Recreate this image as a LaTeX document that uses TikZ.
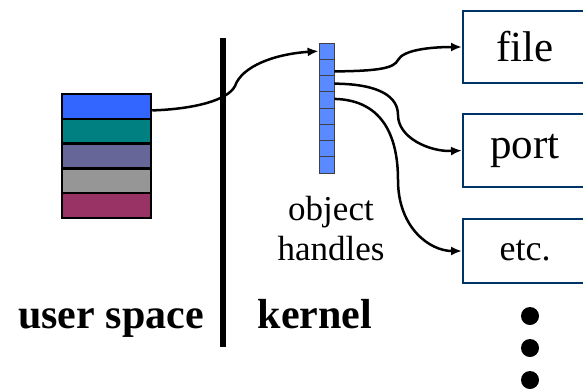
\documentclass[tikz,border=0pt]{standalone}
\usepackage{fontspec}
\setmainfont{Liberation Serif}
\usetikzlibrary{arrows,arrows.meta}
\definecolor{UB}{RGB}{51, 102, 255}
\definecolor{UT}{RGB}{0, 128, 128}
\definecolor{UV}{RGB}{102, 102, 153}
\definecolor{UG}{RGB}{150, 150, 150}
\definecolor{UM}{RGB}{153, 51, 102}
\definecolor{H}{RGB}{90, 138, 255}
\definecolor{K}{RGB}{0, 51, 102}

\tikzset{
  ucell/.style={draw=black, line width=2.5pt, minimum width=89pt, minimum height=24.8pt, inner sep=0pt},
  hcell/.style={draw=black!75, line width=0.8pt, fill=H, minimum width=15pt, minimum height=16.25pt, inner sep=0pt},
  obox/.style={draw=K, line width=2pt, minimum width=124pt, inner sep=0pt},
  link/.style={black, line width=2.5pt, -{Latex[length=11pt,width=9pt]}}
}

\begin{document}
\begin{tikzpicture}[x=1pt, y=-1pt]
  \useasboundingbox (0,0) rectangle (583,389);

	%# PILA EN USER SPACE
  \foreach \c [count=\i] in {UB,UT,UV,UG,UM}
    \node[ucell, fill=\c] (u\i) at (106.5,{81.6+24.8*\i}) {};

	%# SEPARADOR
  \draw[black, line width=6pt] (223,38) -- (223,347);
  \node[anchor=base, font=\bfseries\fontsize{42}{50}\selectfont] (user) at (111,328) {user space};
  \node[anchor=base, font=\bfseries\fontsize{42}{50}\selectfont] (kernel) at (315,328) {kernel};

	%# OBJECT HANDLES
  \foreach \i in {1,...,8}
    \node[hcell] (h\i) at (326.5,{34.9+16.25*\i}) {};
  \node[anchor=north, align=center, inner sep=0pt, font=\fontsize{35}{40}\selectfont] (lbl) at (331,196) {object\\handles};

	%# OBJETOS
  \node[obox, minimum height=72pt, font=\fontsize{43}{50}\selectfont] (file) at (525,47) {file};
  \node[obox, minimum height=73pt, font=\fontsize{43}{50}\selectfont] (port) at (525,150.5) {port};
  \node[obox, minimum height=64pt, font=\fontsize{36}{42}\selectfont] (etc) at (525,251) {etc.};
  \foreach \y in {316,348,380}
    \fill[black] (530,\y) circle (9);

	%# FLECHAS
  \draw[link] ([yshift=-4pt]u1.east) .. controls (195,109) and (228,100) .. (235,86)
    .. controls (242,66) and (275,54) .. (h1.west);
  \draw[link] ([yshift=-4pt]h2.east) .. controls (380,71) and (394,68) .. (398,60)
    .. controls (403,50) and (430,47) .. (file.west);
  \draw[link] (h3.east) .. controls (382,84) and (398,98) .. (398,115)
    .. controls (398,138) and (430,152) .. (port.west);
  \draw[link] ([yshift=1pt]h4.east) .. controls (385,100) and (398,140) .. (398,180)
    .. controls (398,228) and (430,251) .. (etc.west);
\end{tikzpicture}
\end{document}
